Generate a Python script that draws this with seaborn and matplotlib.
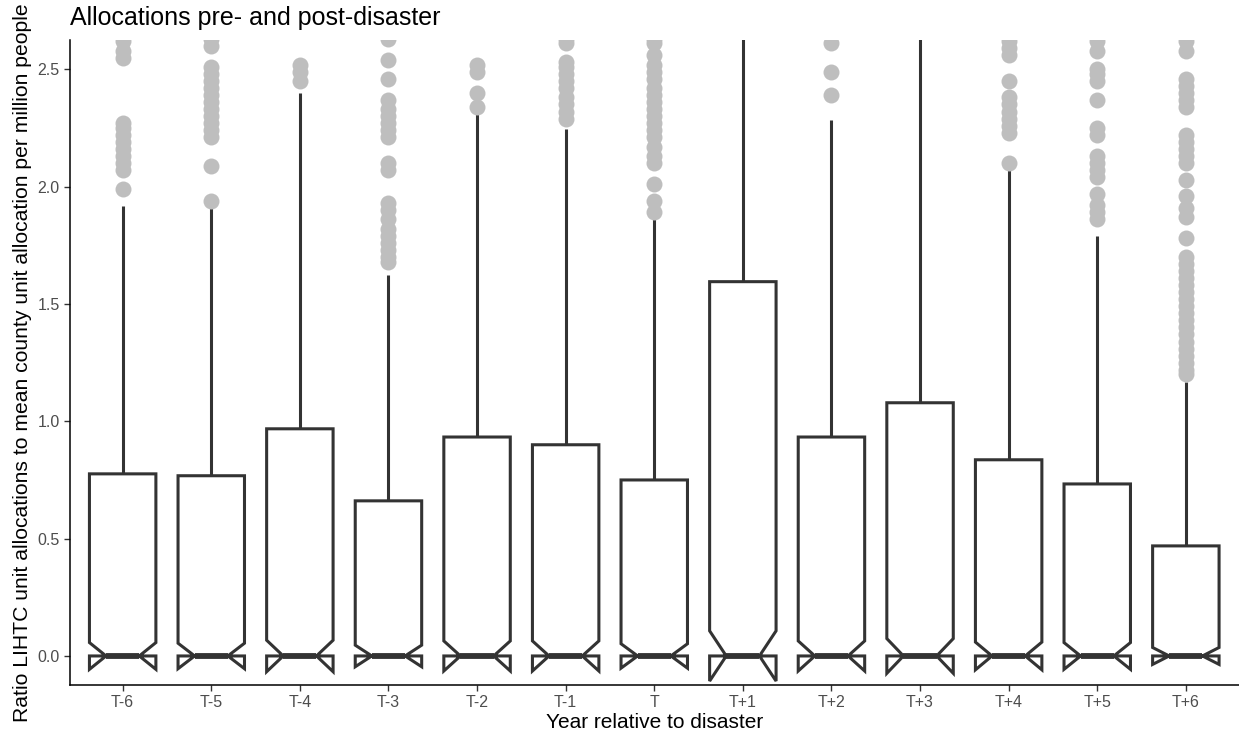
import numpy as np
import pandas as pd
import matplotlib
matplotlib.use("Agg")
import matplotlib.pyplot as plt
import seaborn as sns

# categories
years = ['T-6', 'T-5', 'T-4', 'T-3', 'T-2', 'T-1', 'T',
         'T+1', 'T+2', 'T+3', 'T+4', 'T+5', 'T+6']

# summary values (median and lower quartile are 0)
n_obs = [457, 493, 514, 509, 524, 486, 513, 548, 524, 524, 494, 408, 418]
q3_vals = [0.776, 0.768, 0.968, 0.661, 0.933, 0.900, 0.750,
           1.595, 0.933, 1.079, 0.836, 0.733, 0.469]
whisker_top = [1.916, 1.910, 2.399, 1.624, 2.321, 2.245, 1.870,
               3.900, 2.285, 2.690, 2.075, 1.791, 1.169]

# outliers per year
out_tm6 = [1.99, 2.07, 2.10, 2.13, 2.16, 2.19, 2.22, 2.25, 2.27, 2.55, 2.58, 2.62]
out_tm5 = [1.94, 2.09, 2.21, 2.24, 2.27, 2.30, 2.33, 2.36, 2.39, 2.42, 2.45,
           2.48, 2.51, 2.60, 2.63]
out_tm4 = [2.45, 2.49, 2.52]
out_tm3 = [1.68, 1.70, 1.73, 1.76, 1.79, 1.82, 1.86, 1.90, 1.93, 2.07, 2.10,
           2.21, 2.24, 2.27, 2.30, 2.33, 2.37, 2.46, 2.54, 2.63]
out_tm2 = [2.34, 2.40, 2.49, 2.52]
out_tm1 = [2.29, 2.32, 2.35, 2.38, 2.42, 2.45, 2.48, 2.51, 2.53, 2.61, 2.63]
out_t0 = [1.89, 1.94, 2.01, 2.10, 2.13, 2.17, 2.21, 2.24, 2.27, 2.30, 2.33,
          2.36, 2.39, 2.42, 2.46, 2.49, 2.52, 2.56, 2.61, 2.63]
out_tp1 = []
out_tp2 = [2.39, 2.49, 2.61]
out_tp3 = []
out_tp4 = [2.10, 2.23, 2.26, 2.29, 2.32, 2.35, 2.38, 2.45, 2.56, 2.59, 2.62]
out_tp5 = [1.86, 1.89, 1.92, 1.97, 2.04, 2.07, 2.10, 2.13, 2.22, 2.25, 2.37,
           2.45, 2.48, 2.50, 2.58, 2.62]
out_tp6 = [1.20, 1.22, 1.25, 1.28, 1.31, 1.34, 1.37, 1.40, 1.43, 1.46, 1.49,
           1.52, 1.55, 1.58, 1.61, 1.64, 1.67, 1.70, 1.78, 1.87, 1.91, 1.96,
           2.03, 2.10, 2.13, 2.16, 2.19, 2.22, 2.34, 2.37, 2.40, 2.43, 2.46,
           2.58, 2.62]
outliers = [out_tm6, out_tm5, out_tm4, out_tm3, out_tm2, out_tm1, out_t0,
            out_tp1, out_tp2, out_tp3, out_tp4, out_tp5, out_tp6]


def build_values(n, q3, top, outs):
    # zeros up past the median, then the upper quartile, whisker end, outliers
    zeros = n // 2 + 1
    n_q3 = n - zeros - 1 - len(outs)
    return [0.0] * zeros + [q3] * n_q3 + [top] + list(outs)


rows = []
for year, n, q3, top, outs in zip(years, n_obs, q3_vals, whisker_top, outliers):
    for v in build_values(n, q3, top, outs):
        rows.append({'Year': year, 'Ratio': v})
df = pd.DataFrame(rows)

sns.set_theme(style="ticks")
plt.rcParams['font.family'] = ['Liberation Sans', 'DejaVu Sans']

fig = plt.figure(figsize=(12.39, 7.36), dpi=100)
ax = fig.add_axes([0.0561, 0.0689, 0.9439, 0.8768])

line_col = '#333333'
sns.boxplot(data=df, x='Year', y='Ratio', order=years, ax=ax,
            notch=True, width=0.75, color='white', linecolor=line_col,
            linewidth=2.2, showcaps=False, fliersize=11.5,
            medianprops=dict(linewidth=4.2, color=line_col),
            flierprops=dict(marker='o', markerfacecolor='#BEBEBE',
                            markeredgecolor='#BEBEBE', markeredgewidth=0))

ax.set_ylim(-0.125, 2.625)
ax.set_xlim(-0.6, 12.6)
ax.set_yticks([0.0, 0.5, 1.0, 1.5, 2.0, 2.5])
ax.set_yticklabels(['0.0', '0.5', '1.0', '1.5', '2.0', '2.5'])

for side in ['top', 'right']:
    ax.spines[side].set_visible(False)
for side in ['left', 'bottom']:
    ax.spines[side].set_color('black')
    ax.spines[side].set_linewidth(1.1)
ax.tick_params(axis='both', colors='#333333', length=4, width=1.0,
               labelsize=11.5, labelcolor='#4D4D4D', pad=3)

ax.set_xlabel('Year relative to disaster', fontsize=15, color='black', labelpad=2)
ax.set_ylabel('Ratio LIHTC unit allocations to mean county unit allocation per million people',
              fontsize=15.2, color='black', labelpad=4)
fig.text(70 / 1239, 1 - 25 / 736, 'Allocations pre- and post-disaster',
         fontsize=18, color='black', ha='left', va='baseline')

fig.savefig('out.png', dpi=100)
